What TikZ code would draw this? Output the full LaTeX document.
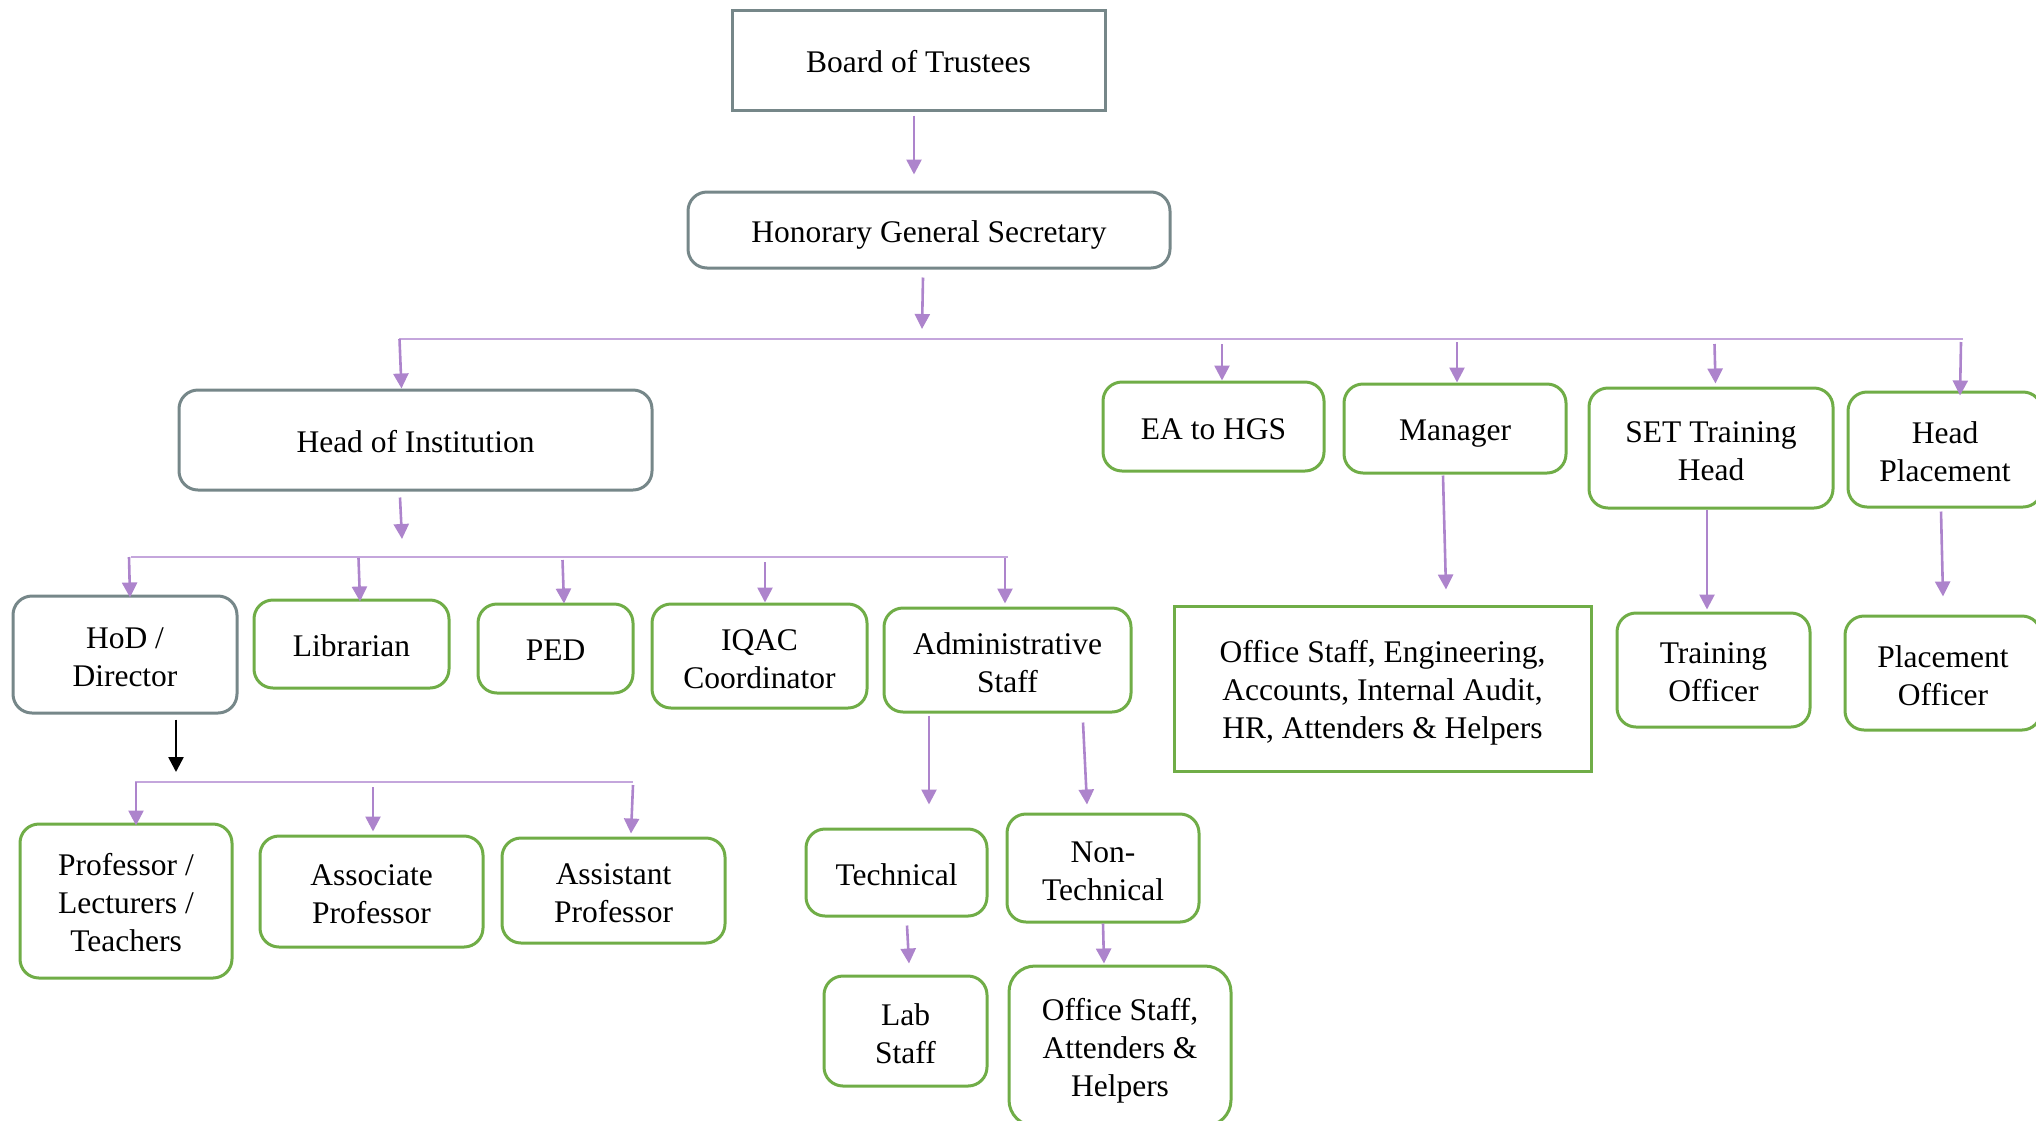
\documentclass[tikz,border=0pt]{standalone}
\usepackage{fontspec}
\setmainfont{Liberation Serif}
\usetikzlibrary{arrows.meta,calc}
\definecolor{grayc}{HTML}{768789}
\definecolor{greenc}{HTML}{70AD47}
\definecolor{purc}{HTML}{AD84CC}
\definecolor{busc}{HTML}{C4A6DC}
% box node plus its text node, text lowered by #6
\newcommand\mkbox[7]{%
  \node[#1, bx={#2}{#3}] (#4) at (#5) {};
  \node[txt] (#4-t) at ($(#4.center)+(0,#6)$) {#7};}
\begin{document}
\begin{tikzpicture}[x=1pt,y=-1pt,
  every node/.style={inner sep=0pt},
  txt/.style={font=\fontsize{31.5}{38}\selectfont, align=center},
  boxbase/.style={line width=3pt, fill=white, rounded corners=19pt},
  graybox/.style={boxbase, draw=grayc},
  greenbox/.style={boxbase, draw=greenc},
  grayrect/.style={boxbase, draw=grayc, sharp corners},
  greenrect/.style={boxbase, draw=greenc, sharp corners},
  parr/.style={draw=purc, line width=2.6pt, -{Triangle[width=15pt,length=15pt]}},
  barr/.style={draw=black, line width=2.6pt, -{Triangle[width=15pt,length=15pt]}},
  bus/.style={draw=busc, line width=2pt},
  bx/.style 2 args={minimum width=#1, minimum height=#2}
]
\useasboundingbox (0,0) rectangle (2036,1120);
\clip (0,0) rectangle (2036,1120);

% nodes
\mkbox{grayrect}{373}{100}{bt}{918.5,60}{2}{Board of Trustees}
\mkbox{graybox}{482}{76}{hgs}{929,230}{5}{Honorary General Secretary}
\mkbox{graybox}{473}{100}{hoi}{415.5,440}{2}{Head of Institution}
\mkbox{graybox}{224}{117}{hod}{125,654.5}{2.5}{HoD /\\Director}
\mkbox{greenbox}{195}{88}{lib}{351.5,644}{2}{Librarian}
\mkbox{greenbox}{155}{89}{ped}{555.5,648.5}{2}{PED}
\mkbox{greenbox}{215}{104}{iqac}{759.5,656}{3}{IQAC\\Coordinator}
\mkbox{greenbox}{247}{104}{adm}{1007.5,660}{2.5}{Administrative\\Staff}
\mkbox{greenbox}{212}{154}{prof}{126,901}{2}{Professor /\\Lecturers /\\Teachers}
\mkbox{greenbox}{223}{111}{assoc}{371.5,891.5}{3}{Associate\\Professor}
\mkbox{greenbox}{223}{105}{asst}{613.5,890.5}{3}{Assistant\\Professor}
\mkbox{greenbox}{181}{87}{tech}{896.5,872.5}{2}{Technical}
\mkbox{greenbox}{192}{108}{ntech}{1103,868}{3}{Non-\\Technical}
\mkbox{greenbox}{163}{110}{lab}{905.5,1031}{3}{Lab\\Staff}
\mkbox{greenbox,rounded corners=26pt}{222}{160}{ntoff}{1120,1046}{5}{Office Staff,\\Attenders \&\\Helpers}
\mkbox{greenbox}{221}{89}{ea}{1213.5,426.5}{3}{EA to HGS}
\mkbox{greenbox}{222}{89}{mgr}{1455,428.5}{5}{Manager}
\mkbox{greenbox}{244}{120}{set}{1711,448}{3}{SET Training\\Head}
\mkbox{greenbox}{194}{115}{hp}{1945,449.5}{2.5}{Head\\Placement}
\mkbox{greenrect}{417}{165}{off}{1382.5,688.5}{4.5}{Office Staff, Engineering,\\Accounts, Internal Audit,\\HR, Attenders \& Helpers}
\mkbox{greenbox}{193}{114}{tro}{1713.5,670}{2}{Training\\Officer}
\mkbox{greenbox}{196}{114}{plo}{1943,673}{2.5}{Placement\\Officer}

% bus coordinates
\coordinate (busAL) at (399,339);
\coordinate (busAR) at (1963,339);
\coordinate (busBL) at (131,557);
\coordinate (busBR) at (1008,557);
\coordinate (busCL) at (135,782);
\coordinate (busCR) at (633,782);

% buses
\draw[bus] (busAL) -- (busAR);
\draw[bus] (busBL) -- (busBR);
\draw[bus] (busCL) -- (busCR);

% top chain
\draw[parr] ($(bt.south)+(-4.5,4)$) -- ($(hgs.north)+(-15,-16)$);
\draw[parr] ($(hgs.south)+(-6,8)$) -- ($(hgs.south |- busAL)+(-7,-10)$);
\draw[parr] ($(hoi.south)+(-15.5,6)$) -- ($(hoi.south |- busBL)+(-13.5,-18)$);
\draw[barr] ($(hod.south)+(51,5)$) -- ($(hod.south |- busCL)+(51,-10)$);

% drops from bus A
\draw[parr] ($(hoi.north |- busAL)+(-16,0)$) -- ($(hoi.north)+(-14,0)$);
\draw[parr] ($(ea.north |- busAL)+(8.5,5)$) -- ($(ea.north)+(8.5,0)$);
\draw[parr] ($(mgr.north |- busAL)+(2,3)$) -- ($(mgr.north)+(2,0)$);
\draw[parr] ($(set.north |- busAL)+(3.5,5)$) -- ($(set.north)+(4.5,-3)$);
\draw[parr] ($(hp.north |- busAL)+(16,3)$) -- ($(hp.north)+(15,5)$);

% drops from bus B
\draw[parr] ($(hod.north |- busBL)+(4,0)$) -- ($(hod.north)+(5,3)$);
\draw[parr] ($(lib.north |- busBL)+(7,1)$) -- ($(lib.north)+(8.5,3)$);
\draw[parr] ($(ped.north |- busBL)+(7,3)$) -- ($(ped.north)+(8.5,1)$);
\draw[parr] ($(iqac.north |- busBL)+(5.5,5)$) -- ($(iqac.north)+(5.5,0)$);
\draw[parr] ($(adm.north |- busBL)+(-2.5,1)$) -- ($(adm.north)+(-2.5,-3)$);

% drops from bus C
\draw[parr] ($(prof.north |- busCL)+(10,0)$) -- ($(prof.north)+(10,3)$);
\draw[parr] ($(assoc.north |- busCL)+(1.5,5)$) -- ($(assoc.north)+(1.5,-3)$);
\draw[parr] ($(asst.north |- busCL)+(19.5,3)$) -- ($(asst.north)+(17.5,-3)$);

% lower connectors
\draw[parr] ($(adm.south)+(-78.5,2)$) -- ($(tech.north)+(32.5,-23)$);
\draw[parr] ($(adm.south)+(75.5,9)$) -- ($(ntech.north)+(-16,-8)$);
\draw[parr] ($(tech.south)+(10.5,8)$) -- ($(lab.north)+(3.5,-11)$);
\draw[parr] ($(ntech.south)+(0,0)$) -- ($(ntoff.north)+(-16,-1)$);
\draw[parr] ($(mgr.south)+(-12,1)$) -- ($(off.north)+(63.5,-15)$);
\draw[parr] ($(set.south)+(-4,0)$) -- ($(tro.north)+(-6.5,-2)$);
\draw[parr] ($(hp.south)+(-4,3)$) -- ($(plo.north)+(0,-18)$);
\end{tikzpicture}
\end{document}
